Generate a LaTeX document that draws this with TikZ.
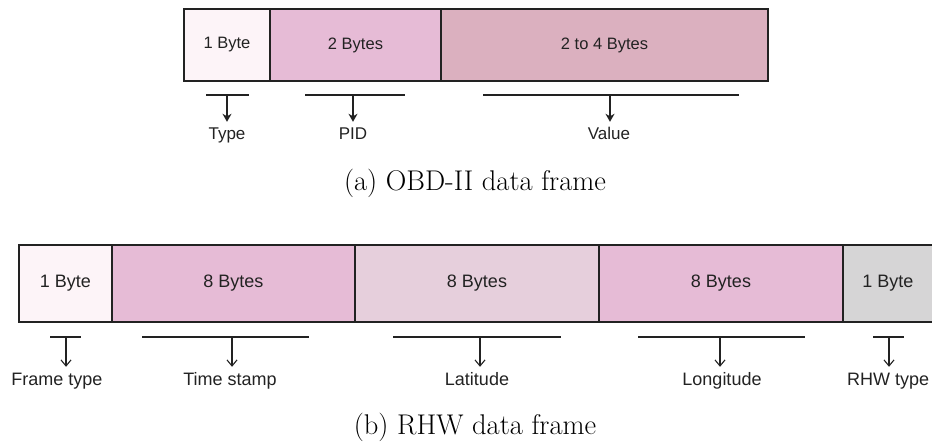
\documentclass[tikz,border=0pt]{standalone}
\usepackage{fontspec}
\setmainfont{Latin Modern Roman}
\newfontfamily\fieldfont{Liberation Sans}
\usetikzlibrary{arrows.meta}
\definecolor{fpale}{HTML}{FDF4F8}
\definecolor{fpink}{HTML}{E6BBD6}
\definecolor{fmauve}{HTML}{DBB0BF}
\definecolor{flilac}{HTML}{E6CFDC}
\definecolor{fgrey}{HTML}{D6D5D6}
\definecolor{ink}{HTML}{222222}
\tikzset{
  field/.style={draw=ink, line width=1.3pt, inner sep=0pt, outer sep=0pt,
    text=ink, font=\fieldfont\fontsize{#1}{#1}\selectfont},
  fieldlabel/.style={text=ink, inner sep=0pt, anchor=base, text height=13pt, text depth=4pt,
    font=\fieldfont\fontsize{#1}{#1}\selectfont},
  spanbar/.style={draw=ink, line width=1.2pt},
  pointer/.style={draw=ink, line width=1.2pt, shorten >=5pt,
    -{Stealth[length=8pt,width=9pt,inset=2.5pt]}},
  openpointer/.style={draw=ink, line width=1.1pt, shorten >=5pt,
    -{Straight Barb[length=6pt,width=10pt]}},
  caption/.style={inner sep=0pt, font=\fontsize{28.5}{32}\selectfont}
}
\begin{document}
\begin{tikzpicture}[x=1pt,y=-1pt]
\useasboundingbox (0,0) rectangle (932,446);
\clip (0,0) rectangle (932,446);

% OBD-II frame: type, PID and value fields
\begin{scope}[shift={(0,45)}]
  \node[field=16.5, fill=fpale,  minimum width=86pt,  minimum height=72pt] (o1) at (227,0) {1 Byte};
  \node[field=16.5, fill=fpink,  minimum width=171pt, minimum height=72pt] (o2) at (355.5,0) {2 Bytes};
  \node[field=16.5, fill=fmauve, minimum width=327pt, minimum height=72pt] (o3) at (604.5,0) {2 to 4 Bytes};
\end{scope}

\coordinate (ob1l) at (206,95);  \coordinate (ob1r) at (249,95);
\coordinate (ob2l) at (305,95);  \coordinate (ob2r) at (405,95);
\coordinate (ob3l) at (483,95);  \coordinate (ob3r) at (739,95);
\coordinate (oa1) at (227,95);   \coordinate (oa2) at (353,95);  \coordinate (oa3) at (610,95);
\draw[spanbar] (ob1l) -- (ob1r);
\draw[spanbar] (ob2l) -- (ob2r);
\draw[spanbar] (ob3l) -- (ob3r);
\node[fieldlabel=17] (otype)  at (227,140) {Type};
\node[fieldlabel=17] (opid)   at (353,140) {PID};
\node[fieldlabel=17] (ovalue) at (609,140) {Value};
\draw[pointer] (oa1) -- (oa1 |- otype.north);
\draw[pointer] (oa2) -- (oa2 |- opid.north);
\draw[pointer] (oa3) -- (oa3 |- ovalue.north);

\node[caption] (capa) at (475,183) {(a) OBD-II data frame};

% RHW frame: frame type, time stamp, position and hazard type
\begin{scope}[shift={(0,283.5)}]
  \node[field=18, fill=fpale,  minimum width=93pt,  minimum height=77pt] (r1) at (65.5,0) {1 Byte};
  \node[field=18, fill=fpink,  minimum width=243pt, minimum height=77pt] (r2) at (233.5,0) {8 Bytes};
  \node[field=18, fill=flilac, minimum width=244pt, minimum height=77pt] (r3) at (477,0) {8 Bytes};
  \node[field=18, fill=fpink,  minimum width=244pt, minimum height=77pt] (r4) at (721,0) {8 Bytes};
  \node[field=18, fill=fgrey,  minimum width=90pt,  minimum height=77pt] (r5) at (888,0) {1 Byte};
\end{scope}

\coordinate (rb1l) at (50,337);  \coordinate (rb1r) at (81,337);
\coordinate (rb2l) at (142,337); \coordinate (rb2r) at (309,337);
\coordinate (rb3l) at (393,337); \coordinate (rb3r) at (561,337);
\coordinate (rb4l) at (638,337); \coordinate (rb4r) at (805,337);
\coordinate (rb5l) at (873,337); \coordinate (rb5r) at (904,337);
\coordinate (ra1) at (66,337);  \coordinate (ra2) at (232,337);
\coordinate (ra3) at (480,337); \coordinate (ra4) at (720,337);
\coordinate (ra5) at (889,337);
\foreach \i in {1,...,5} {\draw[spanbar] (rb\i l) -- (rb\i r);}
\node[fieldlabel=18] (rtype) at (57,385)  {Frame type};
\node[fieldlabel=18] (rtime) at (230,385) {Time stamp};
\node[fieldlabel=18] (rlat)  at (477,385) {Latitude};
\node[fieldlabel=18] (rlon)  at (722,385) {Longitude};
\node[fieldlabel=18, anchor=base west] (rrhw) at (847,385) {RHW type};
\draw[openpointer] (ra1) -- (ra1 |- rtype.north);
\draw[openpointer] (ra2) -- (ra2 |- rtime.north);
\draw[openpointer] (ra3) -- (ra3 |- rlat.north);
\draw[openpointer] (ra4) -- (ra4 |- rlon.north);
\draw[openpointer] (ra5) -- (ra5 |- rrhw.north);

\node[caption] (capb) at (475,427) {(b) RHW data frame};
\end{tikzpicture}
\end{document}
